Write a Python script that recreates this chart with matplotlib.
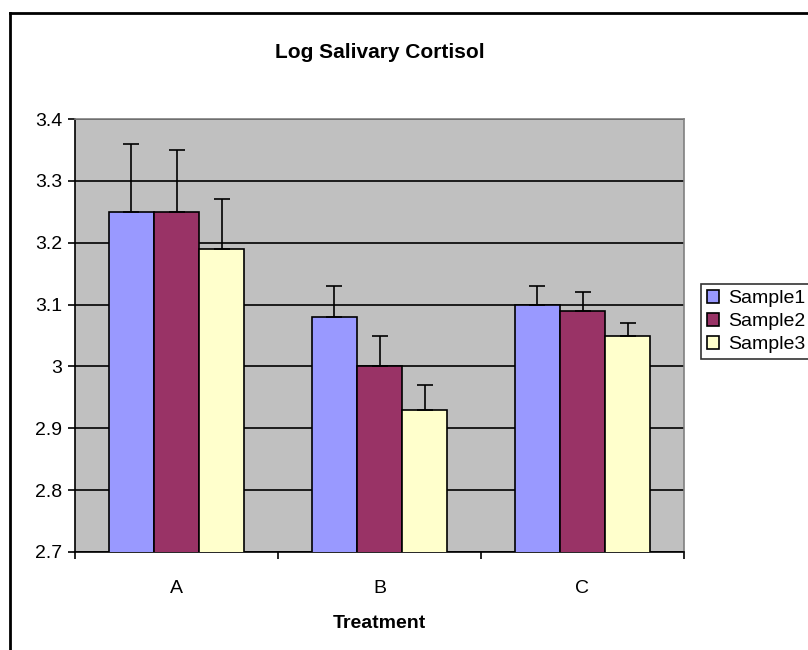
import numpy as np
import matplotlib.pyplot as plt
from matplotlib.lines import Line2D

plt.rcParams['font.family'] = ['Liberation Sans', 'DejaVu Sans']

treatments = ["A", "B", "C"]
series = ["Sample1", "Sample2", "Sample3"]
values = {
    "Sample1": [3.25, 3.08, 3.10],
    "Sample2": [3.25, 3.00, 3.09],
    "Sample3": [3.19, 2.93, 3.05],
}
errors = {
    "Sample1": [0.11, 0.05, 0.03],
    "Sample2": [0.10, 0.05, 0.03],
    "Sample3": [0.08, 0.04, 0.02],
}
colors = ["#9999FF", "#993366", "#FFFFCC"]

fig = plt.figure(figsize=(8.08, 6.5), dpi=100)
ax = fig.add_axes([75 / 808, 1 - 552 / 650, (684 - 75) / 808, (552 - 119) / 650])
ax.set_facecolor("#C0C0C0")

x = np.arange(len(treatments))
w = 1 / 4.5
for i, s in enumerate(series):
    pos = x + (i - 1) * w
    ax.bar(pos, values[s], w, bottom=0, color=colors[i], edgecolor="black",
           linewidth=1.2, label=s, zorder=3)
    ax.errorbar(pos, values[s], yerr=[np.zeros(3), errors[s]], fmt="none",
                ecolor="black", elinewidth=1.2, capsize=6, capthick=1.2, zorder=4)

ax.set_ylim(2.7, 3.4)
ax.set_xlim(-0.5, 2.5)
ax.set_yticks(np.arange(2.7, 3.41, 0.1))
ax.set_yticklabels(["2.7", "2.8", "2.9", "3", "3.1", "3.2", "3.3", "3.4"])
ax.yaxis.grid(True, color="black", linewidth=1.2, zorder=1)
ax.set_axisbelow(True)

ax.set_xticks(x)
ax.set_xticklabels(treatments)
ax.set_xticks([-0.5, 0.5, 1.5, 2.5], minor=True)
ax.tick_params(axis="x", which="major", length=0, pad=20, labelsize=14)
ax.tick_params(axis="x", which="minor", length=5, width=1.2, direction="out")
ax.tick_params(axis="y", length=5, width=1.2, direction="out", labelsize=14, pad=4)

for side in ["left", "bottom"]:
    ax.spines[side].set_color("black")
    ax.spines[side].set_linewidth(1.2)
for side in ["top", "right"]:
    ax.spines[side].set_color("#808080")
    ax.spines[side].set_linewidth(1.2)

ax.set_xlabel("Treatment", fontsize=14, fontweight="bold", labelpad=13)
fig.text(379.5 / 808, 1 - 52 / 650, "Log Salivary Cortisol", ha="center",
         va="center", fontsize=15, fontweight="bold")

leg = fig.legend(loc="upper left", bbox_to_anchor=(701 / 808, 1 - 284 / 650),
                 fontsize=14, frameon=True, fancybox=False, handlelength=0.65,
                 handleheight=0.65, handletextpad=0.45, borderpad=0.3,
                 labelspacing=0.3, borderaxespad=0)
leg.get_frame().set_edgecolor("black")
leg.get_frame().set_linewidth(1.2)

# outer chart border (cut by the image edges)
fig.add_artist(Line2D([10 / 808, 10 / 808], [0, 1 - 13 / 650], transform=fig.transFigure,
                      color="black", linewidth=2))
fig.add_artist(Line2D([10 / 808, 1], [1 - 13 / 650, 1 - 13 / 650], transform=fig.transFigure,
                      color="black", linewidth=2))

fig.savefig("out.png", dpi=100)
